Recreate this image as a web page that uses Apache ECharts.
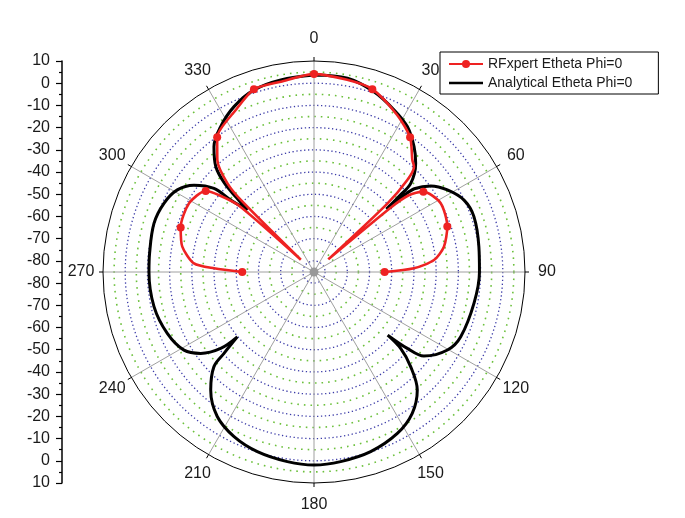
<!DOCTYPE html>
<html><head><meta charset="utf-8">
<script src="https://cdn.jsdelivr.net/npm/echarts@6/dist/echarts.min.js"></script>
<style>html,body{margin:0;padding:0;background:#fff}#c{width:685px;height:518px}</style>
</head><body><div id="c"></div>
<script>
// ---- data ----
const angleLabels = [0, 30, 60, 90, 120, 150, 180, 210, 240, 270, 300, 330];
// left scale labels from bottom to top (dB)
const leftLabels = [10, 0, -10, -20, -30, -40, -50, -60, -70, -80, -80, -70, -60, -50, -40, -30, -20, -10, 0, 10];

const analyticalAngles = [0, 9.8, 18.4, 26.3, 32.7, 38.6, 43.1, 47.5, 48.3, 49, 49.6, 50.3, 53.6, 58.4, 64.4, 70.9, 81.3, 90, 101, 113.8, 120.3, 127.4, 129.3, 130.6, 131.4, 134.4, 138.8, 145.2, 152.7, 162.5, 172, 180, 188, 197.5, 205.9, 213.8, 221.2, 226.6, 227.9, 229.8, 230.7, 234.3, 239, 247.3, 257.8, 270, 276.5, 286.9, 294.6, 301, 305.9, 309.9, 310.8, 312.9, 313.8, 314.8, 317, 321.4, 327.3, 334.2, 341.8, 350.2, 360];
const analyticalValues = [3.7, 3.5, 0.5, -3.6, -7.2, -12.8, -18.0, -25.9, -33.7, -41.8, -31.9, -26.3, -19.7, -14.5, -10.1, -8.8, -9.9, -10.5, -11.6, -12.8, -15.4, -22.7, -30.7, -41.3, -33.0, -24.1, -14.4, -7.5, -3.2, -0.2, 1.2, 1.9, 1.2, -0.2, -2.6, -6.7, -14.4, -23.0, -30.4, -39.8, -30.7, -22.2, -16.7, -13.4, -11.3, -10.7, -10.5, -9.7, -10.7, -13.2, -18.3, -26.3, -35.4, -44.0, -36.6, -28.1, -20.2, -12.8, -7.2, -2.3, 1.3, 2.8, 3.7];

const rfAngles = [270, 272.1, 274.1, 280.9, 288.5, 298.8, 306.8, 309, 311.5, 313, 314.5, 315.7, 319.2, 324.3, 334.2, 341.8, 350.1, 0, 9.8, 17.7, 27.9, 35.5, 41.3, 43.5, 45.4, 47, 48.5, 50, 51, 53.7, 61.5, 71.2, 79, 84.3, 87.9, 90];
const rfValues = [-52.7, -40.0, -30.8, -24.6, -21.7, -20.8, -24.1, -30.1, -40.0, -76.9, -40.0, -29.2, -18.4, -10.3, -4.0, 1.6, 2.0, 4.1, 2.8, 1.4, -5.0, -10.5, -17.9, -19.6, -26.0, -40.0, -76.4, -40.0, -30.1, -23.9, -20.1, -21.6, -25.4, -30.7, -40.0, -53.2];
const rfMarkerAngles = [270, 288.5, 306.8, 324.3, 341.8, 0, 17.7, 35.5, 53.7, 71.2, 90];

const seriesNames = ['RFxpert Etheta Phi=0', 'Analytical Etheta Phi=0'];

// ---- layout ----
const CX = 314, CY = 272, R = 211;
const R_MIN = -85, R_MAX = 10;
const LABEL_R = 233;
const FONT = "'Liberation Sans', Arial, sans-serif";

const chart = echarts.init(document.getElementById('c'), null, {renderer: 'canvas'});

const angleTexts = angleLabels.map(a => {
  const rad = a * Math.PI / 180;
  return {
    type: 'text',
    x: CX + LABEL_R * Math.sin(rad),
    y: CY - LABEL_R * Math.cos(rad),
    style: {text: String(a), fill: '#1a1a1a', font: '16px ' + FONT, align: 'center', verticalAlign: 'middle'},
    z: 10
  };
});

chart.setOption({
  backgroundColor: '#fff',
  animation: false,
  grid: {left: 62, top: 61, width: 10, height: 422},
  xAxis: {type: 'value', show: false},
  yAxis: {
    type: 'value', min: 0, max: 190, interval: 10, position: 'left',
    axisLine: {show: true, lineStyle: {color: '#000', width: 1.5}},
    axisTick: {show: true, length: 6, lineStyle: {color: '#000', width: 1.2}},
    minorTick: {show: true, splitNumber: 2, length: 3, lineStyle: {color: '#000', width: 1.2}},
    splitLine: {show: false},
    axisLabel: {
      margin: 12, fontSize: 16, fontFamily: FONT, color: '#1a1a1a',
      formatter: (v, i) => String(leftLabels[i])
    }
  },
  polar: [
    {center: [CX, CY], radius: R},
    {center: [CX, CY], radius: R * (5 - R_MIN) / (R_MAX - R_MIN)}
  ],
  angleAxis: [
    {
      polarIndex: 0, type: 'value', min: 0, max: 360, interval: 30,
      startAngle: 90, clockwise: true,
      axisLine: {show: true, lineStyle: {color: '#000', width: 1}},
      axisTick: {show: true, length: 4, lineStyle: {color: '#000'}},
      axisLabel: {show: false},
      splitLine: {show: true, lineStyle: {color: '#a0a0a0', width: 1}}
    },
    {polarIndex: 1, type: 'value', min: 0, max: 360, startAngle: 90, show: false}
  ],
  radiusAxis: [
    {
      polarIndex: 0, type: 'value', min: R_MIN, max: R_MAX,
      axisLine: {show: false}, axisTick: {show: false}, axisLabel: {show: false},
      splitLine: {show: false}
    },
    {
      polarIndex: 1, type: 'value', min: R_MIN, max: 5, interval: 10,
      axisLine: {show: false}, axisTick: {show: false}, axisLabel: {show: false},
      splitLine: {show: true, lineStyle: {color: '#6cc03c', width: 1.6, type: [1.6, 5]}},
      minorTick: {show: false, splitNumber: 2},
      minorSplitLine: {show: true, lineStyle: {color: '#3c3ca8', width: 1.3, type: [1.3, 2.6]}}
    }
  ],
  legend: {
    orient: 'vertical', left: 440, top: 52,
    padding: [5, 26, 4, 8], itemGap: 5, itemWidth: 34, itemHeight: 10,
    borderColor: '#000', borderWidth: 1, borderRadius: 0,
    textStyle: {fontSize: 14, fontFamily: FONT, color: '#1a1a1a'},
    data: [
      {name: seriesNames[0]},
      {name: seriesNames[1], icon: 'path://M0,0H40V3.2H0Z'}
    ]
  },
  graphic: angleTexts.concat([
    {type: 'circle', shape: {cx: CX, cy: CY, r: 4.5}, style: {fill: '#999'}, z: 5}
  ]),
  series: [
    {
      name: seriesNames[1], type: 'line', coordinateSystem: 'polar', polarIndex: 0,
      symbol: 'none', color: '#000', smooth: 0.35,
      lineStyle: {color: '#000', width: 3},
      data: analyticalAngles.map((a, i) => [analyticalValues[i], a]),
      z: 3
    },
    {
      name: seriesNames[0], type: 'line', coordinateSystem: 'polar', polarIndex: 0,
      symbol: 'circle', symbolSize: 8, showSymbol: true, showAllSymbol: true,
      color: '#ee2222', smooth: 0.25,
      itemStyle: {color: '#ee2222'},
      lineStyle: {color: '#ee2222', width: 2.6},
      data: rfAngles.map((a, i) => ({
        value: [rfValues[i], a],
        symbol: rfMarkerAngles.indexOf(a) >= 0 ? 'circle' : 'none'
      })),
      z: 4
    }
  ]
});
</script></body></html>
